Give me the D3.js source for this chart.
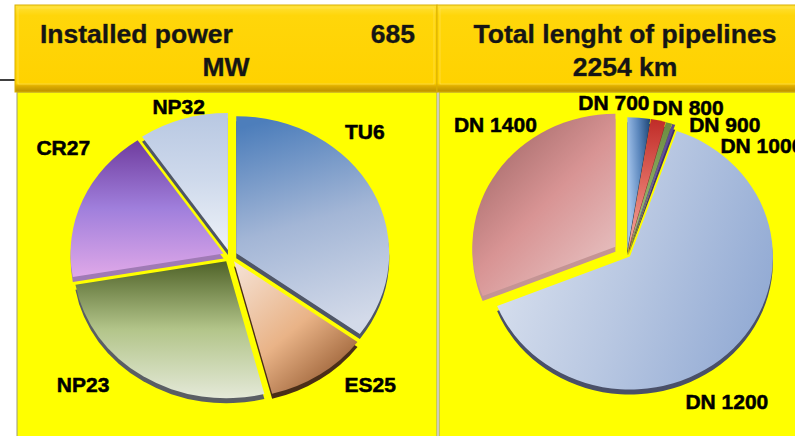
<!DOCTYPE html>
<html>
<head>
<meta charset="utf-8">
<script src="https://cdn.jsdelivr.net/npm/d3@7"></script>
<style>
  body { margin: 0; background: #fff; }
  svg { display: block; font-family: "Liberation Sans", Arial, sans-serif; font-weight: bold; }
</style>
</head>
<body>
<svg id="chart" width="795" height="436"></svg>
<script>
// data
const powerNames = ['TU6', 'ES25', 'NP23', 'CR27', 'NP32'];
const powerValues = [240, 75, 180, 125, 65];            // MW, total 685
const pipeNames = ['DN 700', 'DN 800', 'DN 900', 'DN 1000', 'DN 1200', 'DN 1400'];
const pipeValues = [58, 38, 16, 8, 1434, 700];          // km, total 2254

const titles = [
  {lines: ['Installed power', 'MW'], total: '685'},
  {lines: ['Total lenght of pipelines', '2254 km']}
];

// styles for each slice: gradient direction + stops, rim colour
const powerStyle = [
  {g: [0.3, 0, 0.5, 1], stops: ['#4d7ebb', '#a3b6d6', '#d3dae9'], rim: '#4f5666'},
  {g: [0.1, 0, 0.9, 1], stops: ['#f4dfd0', '#e9b387', '#8a4f25'], rim: '#4a2e18'},
  {g: [0.5, 0, 0.5, 1], stops: ['#4f6228', '#b3c58a', '#e4e9d8'], rim: '#5a5e64'},
  {g: [0.5, 0, 0.5, 1], stops: ['#6f3c9e', '#a07fdc', '#dfa8e8'], rim: '#a07ab5'},
  {g: [0.5, 0, 0.5, 1], stops: ['#b8c8e2', '#cfdaec', '#eef2f8'], rim: '#4f5666'}
];
const pipeStyle = [
  {g: [1, 0, 0, 0.3], stops: ['#1d4474', '#5a86bc', '#a2c2ea'], rim: '#2a3a55'},
  {g: [0.5, 0, 0.5, 1], stops: ['#c02c28', '#e06a60', '#f2aaa2'], rim: '#802020'},
  {g: [0.5, 0, 0.5, 1], stops: ['#6b8c40', '#88a860', '#a8c088'], rim: '#506a30'},
  {g: [0.5, 0, 0.5, 1], stops: ['#5a4890', '#6a58a0', '#8070b0'], rim: '#403070'},
  {g: [0, 0.3, 1, 0.6], stops: ['#dbe2ef', '#b9c8e2', '#93abd4'], rim: '#4a5068'},
  {g: [0.1, 0, 0.9, 1], stops: ['#9a6262', '#d89494', '#e8c6c6'], rim: '#c49494'}
];

const svg = d3.select('#chart');
const defs = svg.append('defs');

// header gradient
const hg = defs.append('linearGradient').attr('id', 'hdr').attr('x1', 0).attr('y1', 0).attr('x2', 0).attr('y2', 1);
hg.append('stop').attr('offset', 0).attr('stop-color', '#ffe23a');
hg.append('stop').attr('offset', 0.12).attr('stop-color', '#ffd60a');
hg.append('stop').attr('offset', 0.9).attr('stop-color', '#ffd200');
hg.append('stop').attr('offset', 0.93).attr('stop-color', '#e0ae00');
hg.append('stop').attr('offset', 1).attr('stop-color', '#b88e00');

// panels
const panels = [
  {x: 15, w: 422, px: 17, pw: 420},
  {x: 437, w: 362, px: 439, pw: 360}
];

svg.append('line').attr('x1', 0).attr('x2', 15).attr('y1', 80).attr('y2', 80)
  .attr('stroke', '#000').attr('stroke-width', 1.5);

panels.forEach((p, i) => {
  svg.append('rect').attr('x', p.px).attr('y', 92).attr('width', p.pw).attr('height', 350)
    .attr('fill', '#ffff00').attr('stroke', '#9a9a80').attr('stroke-width', 1);
  svg.append('rect').attr('x', p.x).attr('y', 5).attr('width', p.w).attr('height', 87)
    .attr('fill', 'url(#hdr)').attr('stroke', '#d9b000').attr('stroke-width', 1);
  svg.append('rect').attr('x', p.x + 3).attr('y', 8).attr('width', p.w - 6).attr('height', 76)
    .attr('fill', 'none').attr('stroke', '#ffe566').attr('stroke-width', 0.8).attr('opacity', 0.7);
});

const tText = svg.append('g').attr('fill', '#151515').attr('font-size', 26.5)
  .style('paint-order', 'stroke').attr('stroke', '#6a5a10').attr('stroke-width', 0.5);
tText.append('text').attr('x', 40).attr('y', 43).text(titles[0].lines[0]);
tText.append('text').attr('x', 415).attr('y', 43).attr('text-anchor', 'end').text(titles[0].total);
tText.append('text').attr('x', 226).attr('y', 76).attr('text-anchor', 'middle').text(titles[0].lines[1]);
tText.append('text').attr('x', 625).attr('y', 43).attr('text-anchor', 'middle').text(titles[1].lines[0]);
tText.append('text').attr('x', 625).attr('y', 76).attr('text-anchor', 'middle').text(titles[1].lines[1]);

function drawPie(opt) {
  const {id, names, values, styles, cx, cy, rx, ry, explode, depth, nudge} = opt;
  const k = ry / rx;
  const pie = d3.pie().sort(null).value(d => d)(values);
  const arc = d3.arc().innerRadius(0).outerRadius(rx);
  const labelArc = d3.arc().innerRadius(rx * 1.12).outerRadius(rx * 1.12);

  styles.forEach((s, i) => {
    const lg = defs.append('linearGradient').attr('id', `${id}${i}`)
      .attr('x1', s.g[0]).attr('y1', s.g[1]).attr('x2', s.g[2]).attr('y2', s.g[3]);
    s.stops.forEach((c, j) => lg.append('stop').attr('offset', j / (s.stops.length - 1)).attr('stop-color', c));
  });

  const g = svg.append('g').attr('transform', `translate(${cx},${cy}) scale(1,${k})`);
  const shift = d => {
    const a = (d.startAngle + d.endAngle) / 2;
    const e = explode[d.index];
    return [Math.sin(a) * e, -Math.cos(a) * e];
  };
  // rims (thickness of the 3-D pie)
  g.selectAll('path.rim').data(pie).enter().append('path')
    .attr('class', 'rim')
    .attr('d', arc)
    .attr('transform', d => { const s = shift(d); return `translate(${s[0]},${s[1] + depth / k})`; })
    .attr('fill', d => styles[d.index].rim);
  g.selectAll('path.top').data(pie).enter().append('path')
    .attr('class', 'top')
    .attr('d', arc)
    .attr('transform', d => { const s = shift(d); return `translate(${s[0]},${s[1]})`; })
    .attr('fill', d => `url(#${id}${d.index})`);

  svg.append('g').attr('font-size', 21).attr('fill', '#000').attr('text-anchor', 'middle')
    .attr('stroke', '#000').attr('stroke-width', 0.5)
    .selectAll('text').data(pie).enter().append('text')
    .attr('x', d => cx + labelArc.centroid(d)[0] + nudge[d.index][0])
    .attr('y', d => cy + labelArc.centroid(d)[1] * k + nudge[d.index][1])
    .text(d => names[d.index]);
}

drawPie({
  id: 'pw', names: powerNames, values: powerValues, styles: powerStyle,
  cx: 230, cy: 256, rx: 153, ry: 137, explode: [7, 7, 7, 7, 7], depth: 5,
  nudge: [[-18, -47], [44, 9], [-54, 7], [-9, -41], [-1, 5]]
});

drawPie({
  id: 'pp', names: pipeNames, values: pipeValues, styles: pipeStyle,
  cx: 627, cy: 254, rx: 143, ry: 133, explode: [4, 4, 4, 4, 4, 14], depth: 5,
  nudge: [[-26, 4], [27, 7], [52, 21], [84, 40], [-16, 52], [1, -38]]
});
</script>
</body>
</html>
